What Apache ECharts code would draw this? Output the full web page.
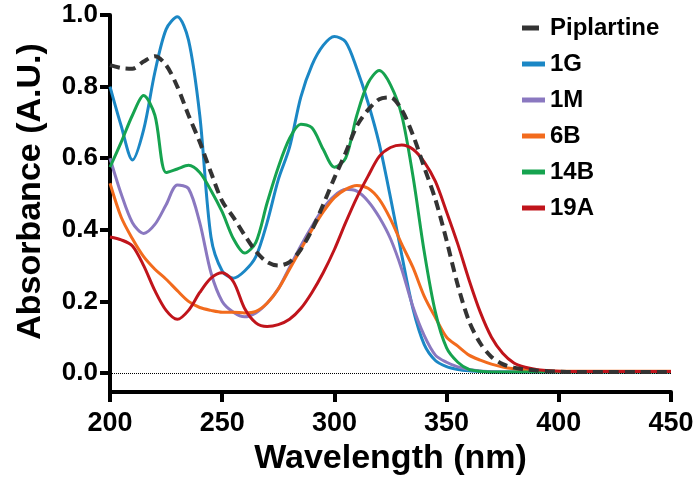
<!DOCTYPE html>
<html>
<head>
<meta charset="utf-8">
<script src="https://cdn.jsdelivr.net/npm/echarts@6/dist/echarts.min.js"></script>
<style>html,body{margin:0;padding:0;background:#fff;}#c{width:700px;height:483px;}</style>
</head>
<body>
<div id="c"></div>
<script>
const wavelengths = [200,205,210,215,220,225,230,235,240,245,250,255,260,265,270,275,280,285,290,295,300,305,310,315,320,325,330,335,340,345,350,355,360,365,370,375,380,385,390,395,400,405,410,415,420,425,430,435,440,445,450];
const piplartine = [0.86,0.852,0.85,0.87,0.885,0.86,0.80,0.72,0.645,0.56,0.48,0.435,0.385,0.34,0.31,0.30,0.31,0.345,0.40,0.47,0.545,0.615,0.69,0.735,0.765,0.77,0.735,0.665,0.575,0.485,0.37,0.245,0.145,0.083,0.045,0.025,0.015,0.01,0.007,0.005,0.004,0.003,0.003,0.003,0.003,0.003,0.003,0.003,0.003,0.003,0.003];
const g1 = [0.80,0.69,0.595,0.68,0.84,0.96,0.995,0.93,0.72,0.38,0.285,0.265,0.285,0.325,0.42,0.54,0.63,0.77,0.86,0.915,0.94,0.925,0.85,0.755,0.64,0.49,0.33,0.18,0.08,0.035,0.018,0.01,0.006,0.004,0.003,0.003,0.003,0.003,0.003,0.003,0.003,0.003,0.003,0.003,0.003,0.003,0.003,0.003,0.003,0.003,0.003];
const m1 = [0.60,0.50,0.42,0.39,0.415,0.47,0.525,0.515,0.42,0.28,0.20,0.17,0.157,0.168,0.195,0.235,0.295,0.355,0.41,0.46,0.495,0.513,0.508,0.48,0.435,0.375,0.29,0.185,0.105,0.05,0.03,0.017,0.01,0.006,0.004,0.003,0.003,0.003,0.003,0.003,0.003,0.003,0.003,0.003,0.003,0.003,0.003,0.003,0.003,0.003,0.003];
const b6 = [0.53,0.435,0.375,0.325,0.29,0.262,0.23,0.20,0.183,0.175,0.17,0.17,0.168,0.172,0.195,0.235,0.29,0.345,0.40,0.45,0.49,0.513,0.524,0.516,0.485,0.43,0.36,0.295,0.215,0.155,0.10,0.075,0.05,0.036,0.025,0.017,0.012,0.009,0.007,0.006,0.005,0.005,0.005,0.005,0.005,0.005,0.005,0.005,0.005,0.005,0.005];
const b14 = [0.575,0.645,0.72,0.775,0.72,0.56,0.57,0.58,0.56,0.51,0.45,0.375,0.335,0.365,0.475,0.575,0.655,0.695,0.685,0.625,0.575,0.60,0.72,0.81,0.845,0.805,0.72,0.55,0.34,0.17,0.07,0.03,0.01,0.005,0.003,0.003,0.003,0.003,0.003,0.003,0.003,0.003,0.003,0.003,0.003,0.003,0.003,0.003,0.003,0.003,0.003];
const a19 = [0.38,0.372,0.355,0.30,0.23,0.175,0.15,0.175,0.225,0.265,0.28,0.255,0.18,0.14,0.13,0.135,0.15,0.18,0.225,0.28,0.345,0.42,0.49,0.55,0.605,0.63,0.637,0.625,0.59,0.535,0.45,0.36,0.26,0.17,0.10,0.055,0.028,0.016,0.01,0.007,0.005,0.004,0.004,0.004,0.004,0.004,0.004,0.004,0.004,0.004,0.004];
const yTicks = [0,0.2,0.4,0.6,0.8,1.0];
const seriesNames = ['Piplartine','1G','1M','6B','14B','19A'];
const seriesColors = ['#333333','#1b87c5','#8a78c0','#f26b1d','#16a34f','#c0141b'];
const seriesData = [piplartine,g1,m1,b6,b14,a19];

const FONT = '"Liberation Sans", Arial, sans-serif';
const chart = echarts.init(document.getElementById('c'), null, {renderer:'canvas'});

const series = seriesNames.map((name, i) => {
  const s = {
    name: name,
    type: 'line',
    smooth: 0.3,
    symbol: 'none',
    data: wavelengths.map((w, k) => [w, seriesData[i][k]]),
    lineStyle: i === 0 ? {color: seriesColors[i], width: 4, type: [10, 6]} : {color: seriesColors[i], width: 3},
    itemStyle: {color: seriesColors[i]},
    z: i === 0 ? 10 : 3
  };
  if (i === 1) {
    s.markLine = {
      silent: true, symbol: 'none', label: {show: false}, animation: false,
      lineStyle: {type: 'dotted', color: '#000', width: 1},
      data: [{yAxis: 0}]
    };
  }
  return s;
});

chart.setOption({
  animation: false,
  backgroundColor: '#fff',
  textStyle: {fontFamily: FONT},
  grid: {left: 110, right: 29, top: 15, bottom: 91, outerBoundsMode: 'none', containLabel: false},
  legend: {
    orient: 'vertical', left: 517, top: 11, itemGap: 12,
    itemWidth: 23, itemHeight: 5,
    textStyle: {fontFamily: FONT, fontWeight: 'bold', fontSize: 24, color: '#000'},
    data: seriesNames.map((n, i) => i === 0
      ? {name: n, icon: 'path://M0,0L17,0L17,5L0,5Z M22.95,4.95L23,4.95L23,5L22.95,5Z'}
      : {name: n, icon: 'rect'})
  },
  xAxis: {
    type: 'value', min: 200, max: 450, interval: 50,
    name: 'Wavelength (nm)', nameLocation: 'middle', nameGap: 50,
    nameTextStyle: {fontFamily: FONT, fontWeight: 'bold', fontSize: 34, color: '#000'},
    axisLine: {show: true, onZero: false, lineStyle: {color: '#000', width: 4}},
    axisTick: {show: true, length: 10, lineStyle: {color: '#000', width: 4}},
    axisLabel: {fontFamily: FONT, fontWeight: 'bold', fontSize: 27, color: '#000', margin: 18},
    splitLine: {show: false}
  },
  yAxis: {
    type: 'value', min: -0.053, max: 1.0,
    name: 'Absorbance (A.U.)', nameLocation: 'middle', nameGap: 62, nameRotate: 90,
    nameTextStyle: {fontFamily: FONT, fontWeight: 'bold', fontSize: 34, color: '#000', padding: [0, 0, 0, 24]},
    axisLine: {show: true, lineStyle: {color: '#000', width: 4}},
    axisTick: {show: true, length: 10, customValues: yTicks, lineStyle: {color: '#000', width: 4}},
    axisLabel: {fontFamily: FONT, fontWeight: 'bold', fontSize: 26, color: '#000', margin: 12,
      customValues: yTicks, formatter: v => v.toFixed(1)},
    splitLine: {show: false}
  },
  series: series
});
</script>
</body>
</html>
